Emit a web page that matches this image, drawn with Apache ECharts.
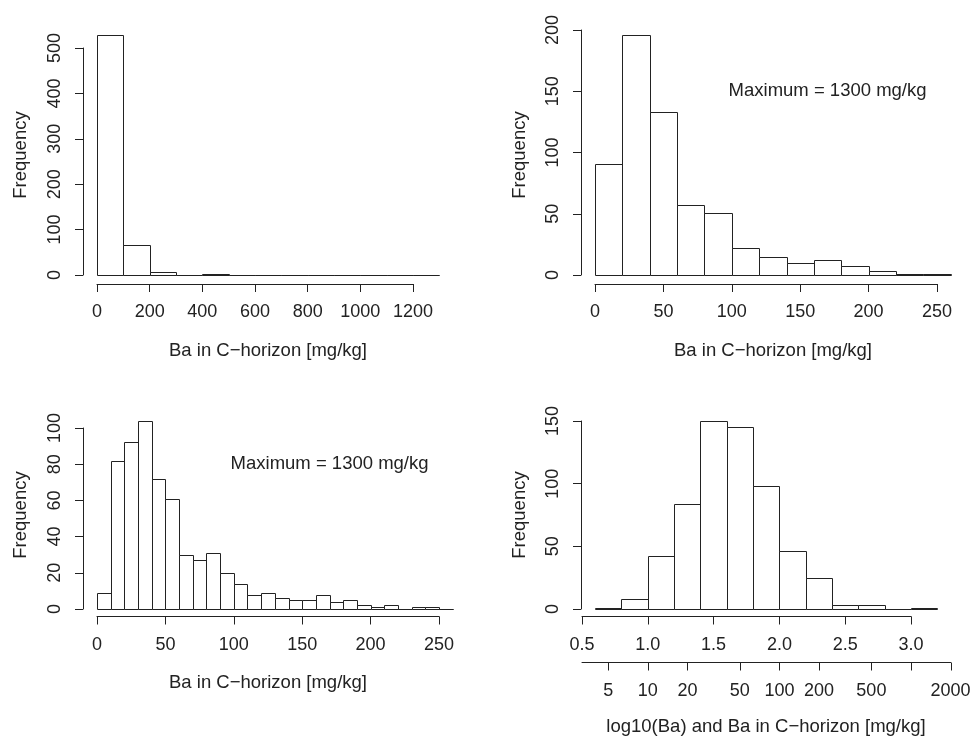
<!DOCTYPE html>
<html>
<head>
<meta charset="utf-8">
<script src="https://cdn.jsdelivr.net/npm/echarts@6/dist/echarts.min.js"></script>
<style>
html,body{margin:0;padding:0;background:#fff;}
#chart{width:976px;height:736px;}
</style>
</head>
<body>
<div id="chart"></div>
<script>
// ---------- data ----------
const breaks1 = [0,100,200,300,400,500,600,700,800,900,1000,1100,1200,1300];
const counts1 = [529,66,6,1,2,1,0,0,0,0,0,0,1];

const breaks2 = [0,20,40,60,80,100,120,140,160,180,200,220,240,260];
const counts2 = [91,196,133,57,51,22,15,10,12,7,3,1,1];

const breaks3 = [0,10,20,30,40,50,60,70,80,90,100,110,120,130,140,150,160,170,180,190,200,210,220,230,240,250,260];
const counts3 = [9,82,92,104,72,61,30,27,31,20,14,8,9,6,5,5,8,4,5,2,1,2,0,1,1,0];

const breaks4 = [0.6,0.8,1.0,1.2,1.4,1.6,1.8,2.0,2.2,2.4,2.6,2.8,3.0,3.2];
const counts4 = [1,8,42,84,150,145,98,46,25,3,3,0,1];

const logTickValues = [5,10,20,50,100,200,500,1000,2000];
const logTickLabels = ['5','10','20','50','100','200','500','','2000'];

const annotationText = 'Maximum = 1300 mg/kg';
const annotation2 = [170,150];
const annotation3 = [170,80];

const yTitle = 'Frequency';
const xTitle = 'Ba in C\u2212horizon [mg/kg]';
const xTitle4 = 'log10(Ba) and Ba in C\u2212horizon [mg/kg]';

// ---------- styling ----------
const FONT = "'Liberation Sans', Arial, Helvetica, sans-serif";
const FS = 18;
const FT = 18.5;
const TXT = '#222';
const LINE = '#222';
const LOG_AXIS_OFFSET = 53.5;
const TICK_LEN = 8;

function xAx(gi, min, max, interval, offset, fmt, extra) {
  const ax = {
    type:'value', gridIndex:gi, min:min, max:max, position:'bottom', offset:offset,
    axisLine:{show:true, onZero:false, lineStyle:{color:LINE, width:1}},
    axisTick:{show:true, inside:false, length:TICK_LEN, lineStyle:{color:LINE, width:1}},
    axisLabel:{show:true, margin:19.5, color:TXT, fontSize:FS, fontFamily:FONT, formatter:fmt || (v=>String(v)), showMinLabel:true, showMaxLabel:true, hideOverlap:false},
    splitLine:{show:false}
  };
  if (interval != null) ax.interval = interval;
  if (extra) {
    Object.assign(ax.axisTick, extra.axisTick || {});
    Object.assign(ax.axisLabel, extra.axisLabel || {});
  }
  return ax;
}
function yAx(gi, min, max, interval, offset, show) {
  return {
    type:'value', gridIndex:gi, min:min, max:max, interval:interval, position:'left', offset:offset,
    show: show !== false,
    axisLine:{show:true, onZero:false, lineStyle:{color:LINE, width:1}},
    axisTick:{show:true, inside:false, length:TICK_LEN, lineStyle:{color:LINE, width:1}},
    axisLabel:{show:true, rotate:90, margin:18.5, color:TXT, fontSize:FS, fontFamily:FONT, showMinLabel:true, showMaxLabel:true, hideOverlap:false},
    splitLine:{show:false}
  };
}
function hist(breaks, counts, xi, yi) {
  return {
    type:'custom', xAxisIndex:xi, yAxisIndex:yi, clip:false, silent:true,
    data: counts.map((c,i)=>[breaks[i], breaks[i+1], c]),
    encode:{x:[0,1], y:2},
    renderItem:function(params, api){
      const a = api.coord([api.value(0), api.value(2)]);
      const b = api.coord([api.value(1), 0]);
      const x0 = Math.round(a[0])+0.5, x1 = Math.round(b[0])+0.5;
      const y0 = Math.round(a[1])+0.5, y1 = Math.round(b[1])+0.5;
      return {type:'rect', shape:{x:x0, y:y0, width:x1-x0, height:y1-y0},
        style:{fill:'#fff', stroke:LINE, lineWidth:1}};
    }
  };
}
// tick marks of the secondary (Ba, log-scaled) axis, positioned through the axis scale
function logTicks(xi, yi) {
  return {
    type:'custom', xAxisIndex:xi, yAxisIndex:yi, clip:false, silent:true,
    data: logTickValues.map(v=>[Math.log10(v)]),
    encode:{x:0},
    renderItem:function(params, api){
      const p = api.coord([api.value(0), 0]);
      const x = Math.round(p[0])+0.5;
      const y = p[1] + LOG_AXIS_OFFSET;
      return {type:'line', shape:{x1:x, y1:y, x2:x, y2:y+TICK_LEN},
        style:{stroke:LINE, lineWidth:1}};
    }
  };
}
function note(pt, xi, yi) {
  return {
    type:'scatter', xAxisIndex:xi, yAxisIndex:yi, symbolSize:0, silent:true,
    itemStyle:{opacity:1},
    data:[pt],
    label:{show:true, position:'inside', formatter:annotationText, color:TXT, fontSize:FT, fontFamily:FONT, opacity:1}
  };
}
function gtext(t, x, y, rot) {
  return {type:'text', x:x, y:y, rotation:rot||0,
    style:{text:t, fill:TXT, font:FT+'px '+FONT, align:'center', verticalAlign:'middle'}};
}

const logPos = logTickValues.map(v=>Math.log10(v));

const chart = echarts.init(document.getElementById('chart'), null, {renderer:'canvas'});
chart.setOption({
  animation:false,
  backgroundColor:'#fff',
  grid:[
    {left:97, top:48, width:316, height:227},
    {left:595, top:30, width:342, height:245},
    {left:97, top:428, width:342, height:181},
    {left:582, top:421, width:329, height:188},
    {left:582, top:421, width:368.6, height:188}
  ],
  xAxis:[
    xAx(0, 0, 1200, 200, 9),
    xAx(1, 0, 250, 50, 9),
    xAx(2, 0, 250, 50, 7.5),
    xAx(3, 0.5, 3.0, 0.5, 7.5, v=>v.toFixed(1)),
    xAx(4, 0.5, Math.log10(2000), null, LOG_AXIS_OFFSET, v=>{
        let best=0, bd=1e9;
        logPos.forEach((t,i)=>{const d=Math.abs(t-v); if(d<bd){bd=d;best=i;}});
        return logTickLabels[best];
      }, {axisTick:{show:false}, axisLabel:{customValues:logPos}})
  ],
  yAxis:[
    yAx(0, 0, 500, 100, 14),
    yAx(1, 0, 200, 50, 14),
    yAx(2, 0, 100, 20, 14),
    yAx(3, 0, 150, 50, 1),
    yAx(4, 0, 150, 50, 1, false)
  ],
  series:[
    hist(breaks1, counts1, 0, 0),
    hist(breaks2, counts2, 1, 1),
    hist(breaks3, counts3, 2, 2),
    hist(breaks4, counts4, 3, 3),
    logTicks(4, 4),
    note(annotation2, 1, 1),
    note(annotation3, 2, 2)
  ],
  graphic:[
    gtext(yTitle, 20.5, 155, Math.PI/2),
    gtext(yTitle, 519.5, 155, Math.PI/2),
    gtext(yTitle, 20.5, 515, Math.PI/2),
    gtext(yTitle, 519.5, 515, Math.PI/2),
    gtext(xTitle, 268, 351),
    gtext(xTitle, 773, 351),
    gtext(xTitle, 268, 683),
    gtext(xTitle4, 766, 727)
  ]
});
</script>
</body>
</html>
